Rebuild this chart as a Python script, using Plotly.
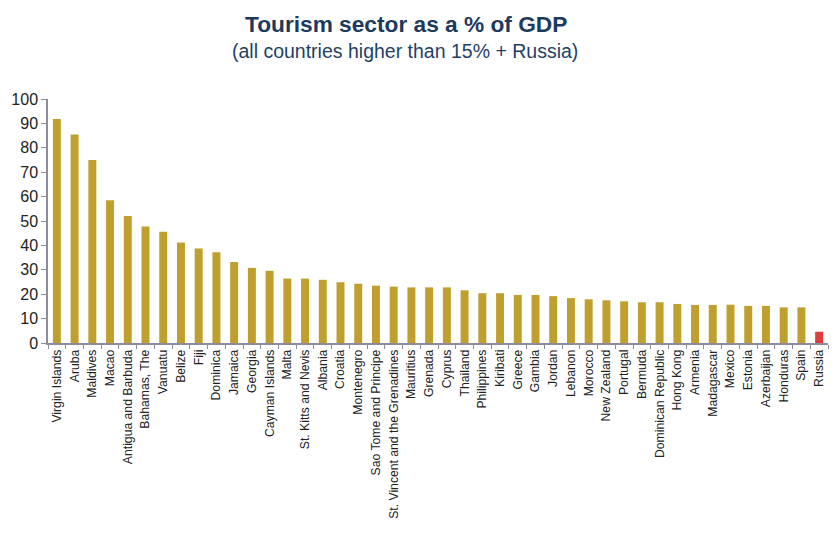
import plotly.graph_objects as go

countries = ["Virgin Islands", "Aruba", "Maldives", "Macao", "Antigua and Barbuda",
             "Bahamas, The", "Vanuatu", "Belize", "Fiji", "Dominica", "Jamaica",
             "Georgia", "Cayman Islands", "Malta", "St. Kitts and Nevis", "Albania",
             "Croatia", "Montenegro", "Sao Tome and Principe",
             "St. Vincent and the Grenadines", "Mauritius", "Grenada", "Cyprus",
             "Thailand", "Philippines", "Kiribati", "Greece", "Gambia", "Jordan",
             "Lebanon", "Morocco", "New Zealand", "Portugal", "Bermuda",
             "Dominican Republic", "Hong Kong", "Armenia", "Madagascar", "Mexico",
             "Estonia", "Azerbaijan", "Honduras", "Spain", "Russia"]
values = [91.8, 85.4, 75.0, 58.5, 52.1, 47.7, 45.6, 41.2, 38.7, 37.2, 33.2,
          30.8, 29.6, 26.4, 26.4, 25.9, 24.9, 24.3, 23.5, 23.1, 22.8, 22.8, 22.8,
          21.6, 20.4, 20.4, 19.7, 19.7, 19.2, 18.4, 17.9, 17.5, 17.1, 16.7,
          16.7, 16.0, 15.6, 15.6, 15.7, 15.2, 15.2, 14.6, 14.6, 4.6]
y_ticks = [0, 10, 20, 30, 40, 50, 60, 70, 80, 90, 100]

gold = "#BFA02F"
red = "#E23B3B"
colors = [red if c == "Russia" else gold for c in countries]

W, H = 840, 538
OFF = 8  # page body margin offset
# desired plot area in page pixels
PX0, PX1, PY0, PY1 = 48, 828, 99, 343
ML = PX0 - OFF
MT = PY0 - OFF
MR = W - (PX1 - OFF)
MB = H - (PY1 - OFF)
plot_h = PY1 - PY0
plot_w = PX1 - PX0

fig = go.Figure(go.Bar(x=countries, y=values, marker_color=colors,
                       marker_line_width=0, width=0.45))

font = "Liberation Sans, Arial, sans-serif"
fig.update_layout(
    width=W, height=H,
    margin=dict(l=ML, r=MR, t=MT, b=MB),
    paper_bgcolor="white", plot_bgcolor="white",
    showlegend=False,
    font=dict(family=font, color="#222222"),
)

def py(pix):
    return (PY1 - pix) / plot_h

def px(pix):
    return (pix - PX0) / plot_w

fig.add_annotation(text="<b>Tourism sector as a % of GDP</b>", xref="paper", yref="paper",
                   x=px(406), xanchor="center", y=py(24), yanchor="middle",
                   showarrow=False, font=dict(size=22.7, color="#1B3A5E", family=font))
fig.add_annotation(text="(all countries higher than 15% + Russia)", xref="paper",
                   yref="paper", x=px(405), xanchor="center", y=py(51), yanchor="middle",
                   showarrow=False, font=dict(size=19.5, color="#1F3F66", family=font))

fig.update_xaxes(
    tickangle=-90, tickfont=dict(size=12.2, color="#222222"),
    showline=True, linecolor="#8C8C9C", linewidth=1.5,
    ticks="outside", tickson="boundaries", ticklen=4, tickcolor="#8C8C9C",
    showgrid=False, automargin=False,
)
fig.update_yaxes(
    range=[0, 100], tickvals=y_ticks, tickfont=dict(size=16, color="#222222"),
    showline=True, linecolor="#8C8C9C", linewidth=1.5,
    ticks="outside", ticklen=5, tickcolor="#8C8C9C",
    showgrid=False, zeroline=False, automargin=False,
)

fig.write_html("out.html")
